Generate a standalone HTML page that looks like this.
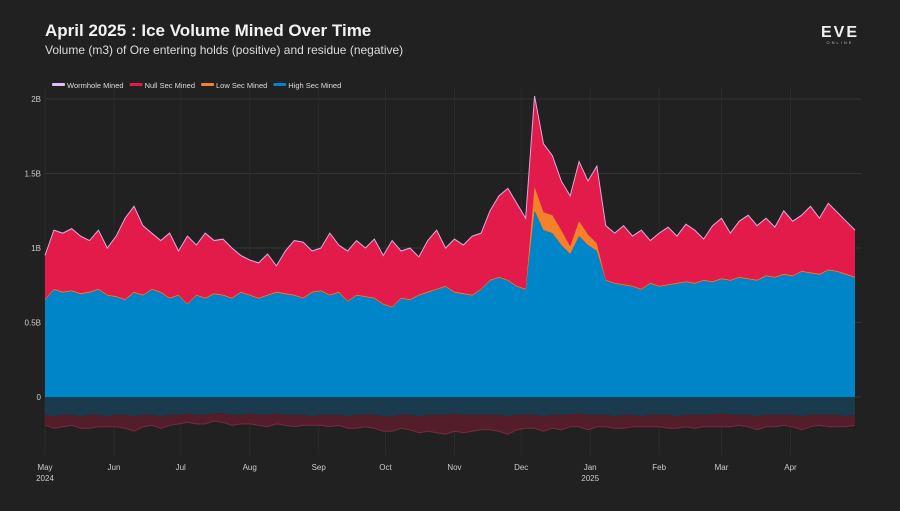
<!DOCTYPE html>
<html><head><meta charset="utf-8"><style>
html,body{margin:0;padding:0;background:#212121;}
body{width:900px;height:506px;overflow:hidden;font-family:"Liberation Sans",sans-serif;}
</style></head><body>
<svg id="chart" width="900" height="506" viewBox="0 0 900 506" xmlns="http://www.w3.org/2000/svg">
<rect width="900" height="506" fill="#212121"/>
<text x="45" y="36" fill="#f2f2f2" font-size="17" font-weight="bold">April 2025 : Ice Volume Mined Over Time</text>
<text x="45" y="54" fill="#dcdcdc" font-size="12">Volume (m3) of Ore entering holds (positive) and residue (negative)</text>
<g>
<text x="840" y="37" fill="#f0f0f0" font-size="16" font-weight="bold" text-anchor="middle" letter-spacing="2">EVE</text>
<text x="840" y="44" fill="#bbb" font-size="4" text-anchor="middle" letter-spacing="2">ONLINE</text>
</g>
<g id="legend"></g>
<g id="grid"></g><g id="areas"></g><g id="axes"></g>
</svg>
<script>
const days=[];for(let d=0;d<=364;d+=4)days.push(d);
const totalMined=[0.95,1.12,1.10,1.13,1.08,1.05,1.12,1.0,
1.08,1.20,1.28,1.15,1.10,1.05,1.10,0.98,
1.08,1.02,1.10,1.05,1.06,1.00,0.95,0.92,
0.90,0.96,0.88,0.98,1.05,1.04,0.98,
1.00,1.10,1.02,0.98,1.05,1.00,1.06,0.95,
1.05,0.98,1.00,0.94,1.05,1.12,1.00,1.06,
1.02,1.08,1.10,1.25,1.35,1.40,1.30,
1.20,2.02,1.70,1.62,1.45,1.35,1.58,1.45,1.55,1.15,
1.10,1.15,1.08,1.12,1.05,1.10,1.14,1.08,1.16,1.12,1.06,1.15,1.20,1.10,1.18,1.22,1.15,1.20,1.14,1.25,1.18,1.22,1.28,1.20,1.30,1.24,1.18,1.12];
const highSec=[0.65,0.72,0.70,0.71,0.69,0.70,0.72,0.68,
0.67,0.65,0.70,0.68,0.72,0.70,0.66,0.68,
0.62,0.68,0.66,0.69,0.68,0.66,0.70,0.68,
0.66,0.68,0.70,0.69,0.68,0.66,0.70,
0.71,0.68,0.70,0.64,0.68,0.67,0.66,0.62,
0.60,0.66,0.65,0.68,0.70,0.72,0.74,0.70,
0.69,0.68,0.72,0.78,0.80,0.78,0.74,
0.72,1.25,1.12,1.10,1.02,0.96,1.08,1.02,0.98,0.78,
0.76,0.75,0.74,0.72,0.76,0.74,0.75,0.76,0.77,0.76,0.78,0.77,0.79,0.78,0.80,0.79,0.78,0.81,0.80,0.82,0.81,0.84,0.83,0.82,0.85,0.84,0.82,0.80];
const lowSec=days.map((d,i)=>[0,0.16,0.12,0.12,0.10,0.05,0.10,0.07,0.05][i-54]||0.006);
const wormhole=days.map(()=>0.004);
const highRes=[0.12,0.13,0.12,0.12,0.13,0.12,0.12,0.13,0.12,0.12,0.13,0.12,0.12,0.13,0.12,0.12,0.11,0.12,0.12,0.11,0.11,0.12,0.12,0.11,0.12,0.12,0.11,0.12,0.12,0.12,0.13,0.12,0.12,0.12,0.13,0.12,0.12,0.12,0.13,0.13,0.12,0.12,0.13,0.12,0.12,0.12,0.11,0.12,0.12,0.12,0.12,0.12,0.13,0.12,0.12,0.12,0.13,0.12,0.12,0.12,0.11,0.12,0.12,0.12,0.13,0.12,0.12,0.13,0.12,0.12,0.12,0.13,0.12,0.12,0.12,0.12,0.11,0.12,0.12,0.12,0.13,0.12,0.12,0.12,0.12,0.13,0.12,0.12,0.12,0.12,0.13,0.12];
const nullRes=[0.07,0.08,0.08,0.07,0.08,0.09,0.08,0.07,0.08,0.09,0.10,0.08,0.07,0.08,0.07,0.06,0.06,0.06,0.06,0.05,0.06,0.07,0.06,0.07,0.07,0.08,0.07,0.07,0.08,0.07,0.06,0.07,0.08,0.07,0.08,0.09,0.08,0.09,0.10,0.10,0.09,0.10,0.11,0.11,0.12,0.13,0.12,0.12,0.11,0.10,0.10,0.11,0.12,0.10,0.09,0.09,0.10,0.09,0.10,0.08,0.09,0.10,0.08,0.08,0.08,0.09,0.08,0.07,0.08,0.08,0.09,0.08,0.08,0.09,0.08,0.08,0.09,0.08,0.07,0.08,0.09,0.08,0.08,0.07,0.08,0.09,0.08,0.07,0.08,0.08,0.07,0.07];
const yTicks=[0,0.5,1,1.5,2];
const yTickLabels=["0","0.5B","1B","1.5B","2B"];
const monthDays=[0,31,61,92,123,153,184,214,245,276,304,335];
const monthLabels=["May","Jun","Jul","Aug","Sep","Oct","Nov","Dec","Jan","Feb","Mar","Apr"];
const legendLabels=["Wormhole Mined","Null Sec Mined","Low Sec Mined","High Sec Mined"];
const legendColors=["#dcc0f5","#e31b4b","#f5822a","#0085c9"];

const NS="http://www.w3.org/2000/svg";
const X0=45,X1=855,Y0=397,PX=149;
const xs=d=>X0+d*(X1-X0)/364;
const ys=v=>Y0-v*PX;
function mk(tag,attrs,parent){const e=document.createElementNS(NS,tag);for(const k in attrs)e.setAttribute(k,attrs[k]);parent.appendChild(e);return e;}
const grid=document.getElementById('grid'),areas=document.getElementById('areas'),axes=document.getElementById('axes'),legend=document.getElementById('legend');
yTicks.forEach((t,i)=>{
 const l=mk('line',{x1:X0,x2:862,y1:ys(t),y2:ys(t),stroke:'#333',"stroke-width":1},grid);
 
 
 const tx=mk('text',{x:41,y:ys(t)+3,fill:'#ccc',"font-size":8,"text-anchor":"end"},axes);
 tx.textContent=yTickLabels[i];
 
 
});
monthDays.forEach((d,i)=>{
 const l=mk('line',{x1:xs(d),x2:xs(d),y1:88,y2:455,stroke:'#2b2b2b',"stroke-width":1},grid);
 
 
 const tx=mk('text',{x:xs(d),y:470,fill:'#ccc',"font-size":8,"text-anchor":"middle"},axes);
 tx.textContent=monthLabels[i];
 
 
});
[["2024",0],["2025",245]].forEach(([s,d])=>{
 const tx=mk('text',{x:xs(d),y:481,fill:'#ccc',"font-size":8,"text-anchor":"middle"},axes);
 tx.textContent=s;
 
 
});
function band(lo,hi,fill,stroke,name,sw){
 let d='M'+days.map((dd,i)=>xs(dd)+','+ys(hi[i])).join('L');
 for(let i=days.length-1;i>=0;i--)d+='L'+xs(days[i])+','+ys(lo[i]);
 const p=mk('path',{d:d+'Z',fill:fill},areas);
 
 
 if(stroke){const ln=mk('path',{d:'M'+days.map((dd,i)=>xs(dd)+','+ys(hi[i])).join('L'),fill:'none',stroke:stroke,"stroke-width":sw||1},areas);
 
 }
}
const zero=days.map(()=>0);
const lowTop=highSec.map((h,i)=>h+lowSec[i]);
const nullTop=totalMined.map((t,i)=>Math.max(t-wormhole[i],lowTop[i]));
band(zero,highSec,'#0085c9',null,'high-sec-area');
band(highSec,lowTop,'#f5822a','#f5822a','low-sec-area',0.6);
band(lowTop,nullTop,'#e31b4b',null,'null-sec-area');
band(nullTop,totalMined,'#dcc0f5','#d9a8e0','wormhole-area');
const hr=highRes.map(v=>-v),nr=highRes.map((v,i)=>-v-nullRes[i]);
band(zero,hr,'#1a3a4d',null,'high-sec-residue-area');
band(hr,nr,'#531d2a','#7a2a3c','null-sec-residue-area');
let lx=52;
legendLabels.forEach((s,i)=>{
 const g=mk('g',{},legend);
 
 
 mk('rect',{x:lx,y:83,width:13,height:3,rx:1,fill:legendColors[i]},g);
 const t=mk('text',{x:lx+15,y:88,fill:'#ddd',"font-size":7.5},g);t.textContent=s;
 lx+=15+t.getComputedTextLength()+6;
});
</script>
</body></html>
